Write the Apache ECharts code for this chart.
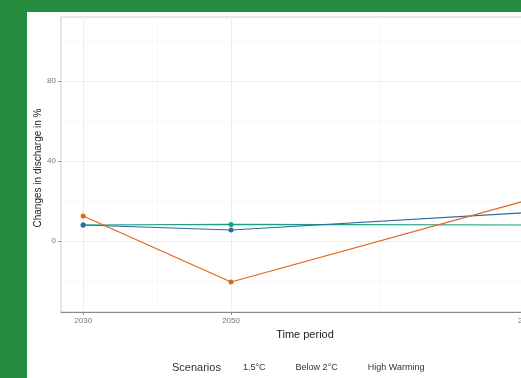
<!DOCTYPE html>
<html><head><meta charset="utf-8">
<script src="https://cdn.jsdelivr.net/npm/echarts@6/dist/echarts.min.js"></script>
<style>
html,body{margin:0;padding:0;width:521px;height:378px;overflow:hidden;background:#268b3e;}
#c{position:absolute;left:27px;top:12px;width:620px;height:366px;background:#fff;}
</style></head><body>
<div id="c"></div>
<script>
// Data
const years = [2030, 2050, 2090];
const xTickLabels = [2030, 2050, 2090];
const xMinorBreaks = [2040, 2070];
const yTickLabels = [0, 40, 80];
const yMinorBreaks = [-20, 20, 60, 100];
const scenarioNames = ['1.5°C', 'Below 2°C', 'High Warming'];
const s15 = [8, 8.3, 8];
const sBelow2 = [8, 5.5, 14.2];
const sHigh = [12.5, -20.5, 20.3];
const colors = ['#1b9e82', '#2f6a9e', '#e0661c'];

const chart = echarts.init(document.getElementById('c'), null, {renderer: 'canvas'});
const font = 'Liberation Sans, Arial, sans-serif';

function pairs(vals) { return years.map((y, i) => [y, vals[i]]); }
const gridLines = [];
xTickLabels.forEach(v => gridLines.push({xAxis: v, lineStyle: {color: '#eeeeee', width: 1, type: 'solid'}}));
xMinorBreaks.forEach(v => gridLines.push({xAxis: v, lineStyle: {color: '#f7f7f7', width: 1, type: 'solid'}}));
yTickLabels.forEach(v => gridLines.push({yAxis: v, lineStyle: {color: '#eeeeee', width: 1, type: 'solid'}}));
yMinorBreaks.forEach(v => gridLines.push({yAxis: v, lineStyle: {color: '#f7f7f7', width: 1, type: 'solid'}}));

const seriesVals = [s15, sBelow2, sHigh];
const series = [{
  type: 'line', data: [], silent: true, z: 0,
  markLine: {silent: true, z: 0, symbol: ['none', 'none'], label: {show: false}, animation: false, data: gridLines}
}];
scenarioNames.forEach((n, i) => series.push({
  name: n, type: 'line', data: pairs(seriesVals[i]), z: 3,
  symbol: 'circle', symbolSize: 5, color: colors[i],
  lineStyle: {width: 1.2, color: colors[i]}, itemStyle: {color: colors[i]},
  animation: false
}));

chart.setOption({
  animation: false,
  grid: {left: 34, top: 5, right: 98, bottom: 66, containLabel: false, outerBoundsMode: 'none',
         show: true, borderColor: '#cccccc', borderWidth: 1, backgroundColor: 'transparent'},
  xAxis: {
    type: 'value', min: 2027, max: 2093,
    name: 'Time period', nameLocation: 'middle', nameGap: 16,
    nameTextStyle: {fontFamily: font, fontSize: 11, color: '#222'},
    axisLine: {show: true, onZero: false, lineStyle: {color: '#8a8a8a', width: 1}},
    axisTick: {show: true, length: 3, lineStyle: {color: '#8a8a8a'}, customValues: xTickLabels},
    axisLabel: {customValues: xTickLabels, fontFamily: font, fontSize: 8, color: '#777', margin: 5, formatter: v => String(v)},
    splitLine: {show: false}
  },
  yAxis: {
    type: 'value', min: -35.5, max: 112,
    axisLine: {show: false, onZero: false},
    axisTick: {show: true, length: 3, lineStyle: {color: '#8a8a8a'}, customValues: yTickLabels},
    axisLabel: {customValues: yTickLabels, fontFamily: font, fontSize: 8, color: '#777', margin: 5},
    splitLine: {show: false}
  },
  legend: {
    data: scenarioNames, left: 192, top: 346, itemWidth: 14, itemHeight: 10, itemGap: 11,
    icon: 'rect', inactiveColor: '#fff',
    itemStyle: {color: 'rgba(255,255,255,0)', borderWidth: 0},
    lineStyle: {opacity: 0},
    textStyle: {fontFamily: font, fontSize: 9, color: '#333'},
    selectedMode: false
  },
  graphic: [
    {type: 'text', left: 145, top: 350, style: {text: 'Scenarios', font: '11px ' + font, fill: '#333'}},
    {type: 'text', x: 11, y: 156, rotation: Math.PI / 2,
     style: {text: 'Changes in discharge in %', font: '10px ' + font, fill: '#222', align: 'center', verticalAlign: 'middle'}}
  ],
  series: series
});
</script>
</body></html>
